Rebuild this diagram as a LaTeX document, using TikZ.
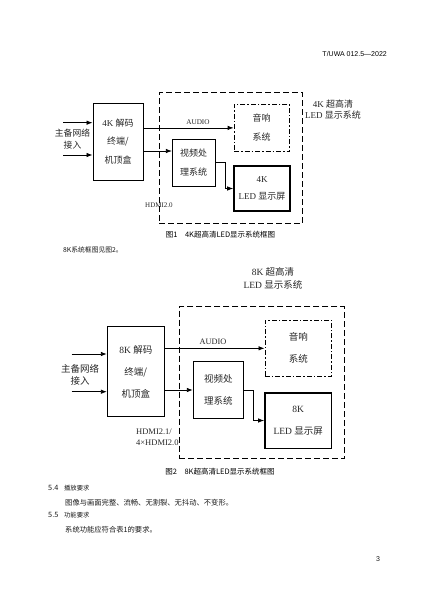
\documentclass[tikz,border=0pt]{standalone}
\usepackage{fontspec}
\setmainfont{Liberation Serif}
\newfontfamily\cjk{Noto Sans CJK SC}
\newfontfamily\arialf{Liberation Sans}
\usetikzlibrary{arrows.meta,calc}
\tikzset{
  box/.style={draw, line width=0.9pt, inner sep=0pt, align=center, text=black!85},
  ledbox/.style={box, line width=1.6pt},
  outerbox/.style={draw, line width=0.9pt, dash pattern=on 6pt off 3pt, inner sep=0pt},
  dashdotbox/.style={draw, line width=0.9pt, dash pattern=on 5pt off 2pt on 1.5pt off 2pt, inner sep=0pt, align=center, text=black!85},
  arr/.style={line width=0.8pt, -{Latex[length=6pt,width=4.5pt]}},
  lbl/.style={inner sep=0pt, align=center, text=black!85},
  body/.style={inner sep=0pt, anchor=west, text=black!90, font=\cjk\fontsize{7.3}{9}\selectfont},
}
\begin{document}
\begin{tikzpicture}[x=1pt,y=-1pt]
\useasboundingbox (0,0) rectangle (426,602);

% header
\node[inner sep=0pt, anchor=east, font=\arialf\fontsize{7}{8}\selectfont] (hdr) at (387,54) {T/UWA 012.5—2022};

% ---------------- Figure 1 ----------------
\node[outerbox, minimum width=143.4pt, minimum height=130.6pt] (sys1) at (231,158) {};
\node[box, minimum width=50pt, minimum height=77pt, font=\fontsize{9}{18.5}\selectfont] (dec1) at (118,141.5) {4K {\cjk 解码}\\{\cjk 终端/}\\{\cjk 机顶盒}};
\node[dashdotbox, minimum width=55.3pt, minimum height=47.7pt, font=\fontsize{9}{19}\selectfont] (snd1) at (261.7,127.9) {{\cjk 音响}\\{\cjk 系统}};
\node[box, minimum width=42.7pt, minimum height=46.7pt, font=\fontsize{9}{18.3}\selectfont] (vid1) at (193.7,162.7) {{\cjk 视频处}\\{\cjk 理系统}};
\node[ledbox, minimum width=56pt, minimum height=45pt, font=\fontsize{9}{17}\selectfont] (led1) at (262,188.5) {4K\\LED {\cjk 显示屏}};
\node[lbl, font=\fontsize{9}{11.5}\selectfont] (sys1lab) at (333,109.5) {4K {\cjk 超高清}\\LED {\cjk 显示系统}};
\node[lbl, font=\cjk\fontsize{8.8}{12}\selectfont] (net1) at (72.5,139.3) {主备网络\\接入};

\coordinate (i1a) at (63,122.7);
\coordinate (i1b) at (63,155);
\draw[arr] (i1a) -- (i1a -| dec1.west);
\draw[arr] (i1b) -- (i1b -| dec1.west);
\draw[arr] (dec1.east |- snd1.west) -- (snd1.west);
\node[lbl, font=\fontsize{7.2}{8}\selectfont] (aud1) at (198,121.7) {AUDIO};
\coordinate (h1) at ([yshift=-9.5pt]dec1.east);
\draw[arr] (h1) -- (h1 -| vid1.west);
\draw[arr] (vid1.east) -- ++(10,0) |- (led1.west);
\node[lbl, anchor=west, font=\fontsize{7}{8}\selectfont] (hdmi1) at (145,205) {HDMI2.0};

\node[lbl, font=\cjk\fontsize{7.5}{9}\selectfont, text=black] (cap1) at (220.5,235) {图1\hspace{1em}4K超高清LED显示系统框图};
\node[body, font=\cjk\fontsize{6.8}{8}\selectfont] (txt8k) at (63,250) {8K系统框图见图2。};

% ---------------- Figure 2 ----------------
\node[outerbox, minimum width=165.3pt, minimum height=151.6pt] (sys2) at (261.7,382.5) {};
\node[box, minimum width=57pt, minimum height=90pt, font=\fontsize{9.5}{22}\selectfont] (dec2) at (135.8,371.7) {8K {\cjk 解码}\\{\cjk 终端/}\\{\cjk 机顶盒}};
\node[dashdotbox, minimum width=66.7pt, minimum height=56.7pt, font=\fontsize{9.5}{22}\selectfont] (snd2) at (298.3,348.3) {{\cjk 音响}\\{\cjk 系统}};
\node[box, minimum width=50pt, minimum height=56.6pt, font=\fontsize{9.5}{22.5}\selectfont] (vid2) at (218.3,390) {{\cjk 视频处}\\{\cjk 理系统}};
\node[ledbox, minimum width=66.7pt, minimum height=55.6pt, font=\fontsize{9.5}{22.5}\selectfont] (led2) at (298.3,420.5) {8K\\LED {\cjk 显示屏}};
\node[lbl, font=\fontsize{9.5}{13.3}\selectfont] (sys2lab) at (273,278.3) {8K {\cjk 超高清}\\LED {\cjk 显示系统}};
\node[lbl, font=\cjk\fontsize{9.5}{12.7}\selectfont] (net2) at (80,374.7) {主备网络\\接入};

\coordinate (i2a) at (71.7,354);
\coordinate (i2b) at (71.7,391.7);
\draw[arr] (i2a) -- (i2a -| dec2.west);
\draw[arr] (i2b) -- (i2b -| dec2.west);
\draw[arr] (dec2.east |- snd2.west) -- (snd2.west);
\node[lbl, font=\fontsize{8.3}{9}\selectfont] (aud2) at (213,341.7) {AUDIO};
\draw[arr] (dec2.east |- vid2.west) -- (vid2.west);
\draw[arr] (vid2.east) -- ++(10,0) |- (led2.west);
\node[lbl, anchor=west, align=left, font=\fontsize{8.5}{11}\selectfont] (hdmi2) at (136,437.2) {HDMI2.1/\\4×HDMI2.0};

\node[lbl, font=\cjk\fontsize{7.5}{9}\selectfont, text=black] (cap2) at (220,471.7) {图2\hspace{1em}8K超高清LED显示系统框图};

% ---------------- body text ----------------
\node[body] (s54) at (48,488) {5.4\hspace{0.8em}{\fontsize{6.3}{8}\selectfont 播放要求}};
\node[body] (t54) at (65,503) {图像与画面完整、流畅、无割裂、无抖动、不变形。};
\node[body] (s55) at (48,515) {5.5\hspace{0.8em}{\fontsize{6.3}{8}\selectfont 功能要求}};
\node[body] (t55) at (65,530) {系统功能应符合表1的要求。};
\node[body, anchor=center, font=\arialf\fontsize{7}{8}\selectfont] (pg) at (378,559) {3};
\end{tikzpicture}
\end{document}
